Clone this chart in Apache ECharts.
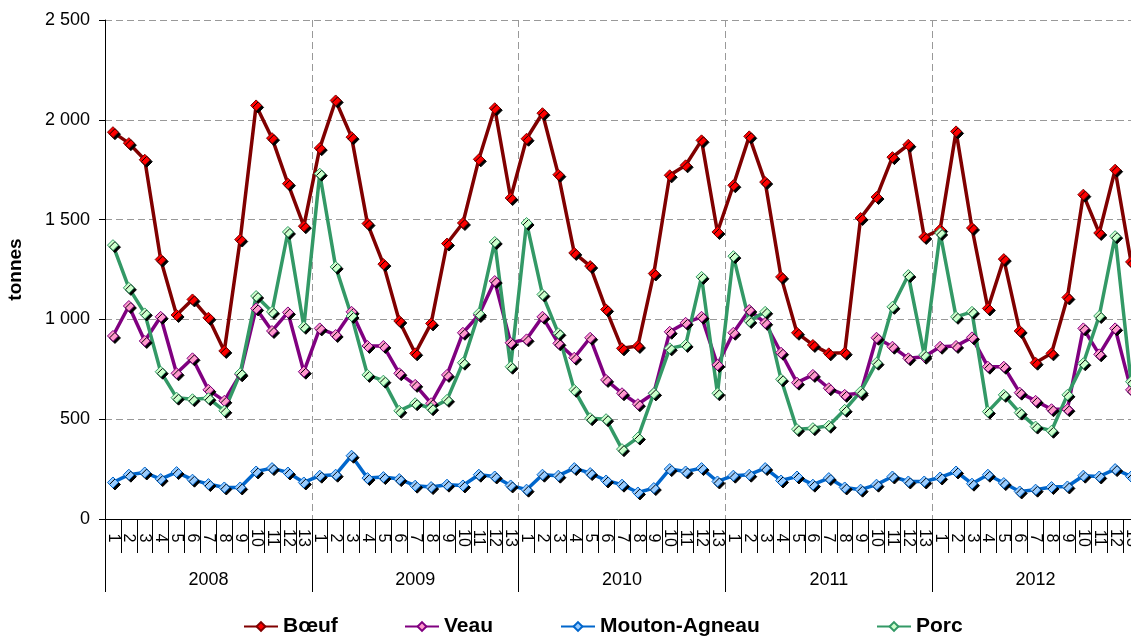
<!DOCTYPE html>
<html>
<head>
<meta charset="utf-8">
<script src="https://cdn.jsdelivr.net/npm/echarts@6/dist/echarts.min.js"></script>
<style>
  html, body { margin: 0; padding: 0; background: #fff; }
  #chart { width: 1131px; height: 639px; }
</style>
</head>
<body>
<div id="chart"></div>
<script>
// périodes (13 par an) et années
const periods = ['1', '2', '3', '4', '5', '6', '7', '8', '9', '10', '11', '12', '13'];
const years = ['2008', '2009', '2010', '2011', '2012'];

// tonnes, 2008 p1 -> 2012 p13
const boeuf = [
  1938, 1883, 1800, 1300, 1022, 1100, 1008, 842, 1400, 2072, 1908, 1680, 1467,
  1858, 2097, 1913, 1480, 1277, 992, 830, 980, 1380, 1483, 1802, 2058, 1608,
  1905, 2033, 1725, 1333, 1267, 1050, 855, 867, 1230, 1722, 1772, 1897, 1438,
  1672, 1917, 1688, 1213, 933, 872, 830, 833, 1508, 1613, 1813, 1875, 1413,
  1450, 1942, 1458, 1055, 1302, 942, 783, 830, 1110, 1625, 1433, 1750, 1288
];
const veau = [
  917, 1067, 892, 1013, 730, 805, 647, 592, 725, 1055, 942, 1035, 738,
  955, 922, 1038, 867, 867, 730, 672, 580, 722, 933, 1022, 1192, 883,
  900, 1013, 880, 808, 908, 697, 630, 575, 630, 938, 983, 1013, 772,
  933, 1047, 983, 833, 683, 722, 655, 622, 630, 908, 863, 805, 813,
  863, 867, 910, 763, 763, 633, 592, 550, 550, 955, 825, 955, 647
];
const mouton = [
  183, 222, 233, 200, 235, 197, 175, 158, 158, 238, 255, 233, 183,
  217, 222, 317, 205, 210, 200, 167, 160, 172, 168, 222, 213, 168,
  147, 222, 217, 255, 230, 193, 172, 133, 155, 250, 238, 255, 188,
  217, 222, 255, 193, 213, 172, 205, 158, 147, 172, 213, 188, 188,
  208, 238, 177, 222, 180, 138, 147, 160, 163, 217, 213, 250, 213
];
const porc = [
  1372, 1158, 1030, 738, 608, 600, 605, 542, 730, 1117, 1038, 1438, 963,
  1730, 1263, 1017, 722, 693, 542, 580, 555, 597, 783, 1030, 1388, 763,
  1483, 1125, 930, 647, 505, 500, 350, 408, 630, 855, 872, 1213, 630,
  1317, 992, 1038, 700, 450, 455, 467, 547, 638, 783, 1063, 1222, 822,
  1433, 1013, 1038, 538, 622, 533, 463, 442, 622, 780, 1017, 1417, 688
];

const FONT = '"Liberation Sans", Arial, sans-serif';
const categories = years.flatMap(() => periods);

const chart = echarts.init(document.getElementById('chart'));

function makeSeries(name, data, lineColor, fillColor) {
  return {
    name,
    type: 'line',
    data,
    symbol: 'diamond',
    symbolSize: 11,
    lineStyle: { width: 3.5, color: lineColor },
    itemStyle: {
      color: fillColor,
      borderColor: lineColor,
      borderWidth: 1,
      shadowColor: '#000',
      shadowOffsetX: 2,
      shadowOffsetY: 2,
      shadowBlur: 0
    },
    emphasis: { disabled: true },
    animation: false
  };
}

function legendAt(name, left) {
  return {
    data: [name],
    left,
    top: 616,
    padding: 0,
    itemWidth: 34,
    itemHeight: 11,
    itemGap: 6,
    textStyle: { fontFamily: FONT, fontWeight: 'bold', fontSize: 21, color: '#000' }
  };
}

chart.setOption({
  animation: false,
  grid: { left: 105, top: 20, right: -8, bottom: 120, outerBoundsMode: 'none' },
  legend: [
    legendAt('Bœuf', 243),
    legendAt('Veau', 404),
    legendAt('Mouton-Agneau', 560),
    legendAt('Porc', 876)
  ],
  xAxis: [
    {
      type: 'category',
      data: categories,
      boundaryGap: true,
      axisLine: { lineStyle: { color: '#000', width: 1 } },
      axisTick: { show: true, interval: 0, length: 34, lineStyle: { color: '#000' } },
      axisLabel: {
        interval: 0,
        rotate: -90,
        margin: 19,
        align: 'center',
        verticalAlign: 'middle',
        fontFamily: FONT,
        fontSize: 16,
        color: '#000'
      },
      splitLine: { show: false }
    },
    {
      type: 'category',
      data: years,
      position: 'bottom',
      boundaryGap: true,
      axisLine: { show: false },
      axisTick: { show: true, interval: 0, length: 73, lineStyle: { color: '#000' } },
      axisLabel: { interval: 0, margin: 52, fontFamily: FONT, fontSize: 18, color: '#000' },
      splitLine: {
        show: true,
        interval: (i) => i > 0,
        lineStyle: { color: '#999', type: [7, 4], width: 1 }
      }
    }
  ],
  yAxis: {
    type: 'value',
    min: 0,
    max: 2500,
    interval: 500,
    name: 'tonnes',
    nameLocation: 'middle',
    nameGap: 80,
    nameTextStyle: { fontFamily: FONT, fontWeight: 'bold', fontSize: 19, color: '#000' },
    axisLine: { show: true, lineStyle: { color: '#000', width: 1 } },
    axisTick: { show: true, length: 6, lineStyle: { color: '#000' } },
    axisLabel: {
      margin: 15,
      fontFamily: FONT,
      fontSize: 18,
      color: '#000',
      formatter: (v) => String(v).replace(/\B(?=(\d{3})+(?!\d))/g, ' ')
    },
    splitLine: { show: true, lineStyle: { color: '#999', type: [7, 4], width: 1 } }
  },
  series: [
    makeSeries('Bœuf', boeuf, '#800000', '#ff0000'),
    makeSeries('Veau', veau, '#800080', '#ff99cc'),
    makeSeries('Mouton-Agneau', mouton, '#0066cc', '#99ccff'),
    makeSeries('Porc', porc, '#339966', '#ccffcc')
  ]
});
</script>
</body>
</html>
